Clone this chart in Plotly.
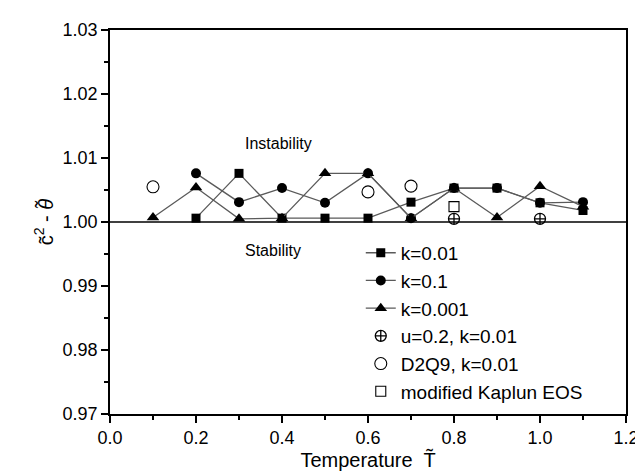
import plotly.graph_objects as go

# ---- data ----
T_k001 = [0.2, 0.3, 0.4, 0.5, 0.6, 0.7, 0.8, 0.9, 1.0, 1.1]
v_k001 = [1.0006, 1.0076, 1.0006, 1.0006, 1.0006, 1.0031, 1.0053, 1.0053, 1.0030, 1.0018]

T_k01 = [0.2, 0.3, 0.4, 0.5, 0.6, 0.7, 0.8, 0.9, 1.0, 1.1]
v_k01 = [1.0076, 1.0031, 1.0053, 1.0030, 1.0076, 1.0006, 1.0053, 1.0053, 1.0030, 1.0031]

T_k0001 = [0.1, 0.2, 0.3, 0.4, 0.5, 0.6, 0.7, 0.8, 0.9, 1.0, 1.1]
v_k0001 = [1.0007, 1.0054, 1.0005, 1.0006, 1.0076, 1.0076, 1.0006, 1.0053, 1.0007, 1.0056, 1.0024]

T_u02 = [0.8, 1.0]
v_u02 = [1.0005, 1.0005]

T_d2q9 = [0.1, 0.6, 0.7]
v_d2q9 = [1.0055, 1.0047, 1.0056]

T_kap = [0.8]
v_kap = [1.0024]

x_ticks = [0.0, 0.2, 0.4, 0.6, 0.8, 1.0, 1.2]
y_ticks = [0.97, 0.98, 0.99, 1.00, 1.01, 1.02, 1.03]

FONT = "Arial, Liberation Sans, sans-serif"
LINE = dict(color="#5a5a5a", width=1.3)

fig = go.Figure()
fig.add_trace(go.Scatter(x=T_k001, y=v_k001, mode="lines+markers", name="k=0.01",
                         line=LINE, marker=dict(symbol="square", size=9, color="black")))
fig.add_trace(go.Scatter(x=T_k01, y=v_k01, mode="lines+markers", name="k=0.1",
                         line=LINE, marker=dict(symbol="circle", size=10, color="black")))
fig.add_trace(go.Scatter(x=T_k0001, y=v_k0001, mode="lines+markers", name="k=0.001",
                         line=LINE, marker=dict(symbol="triangle-up", size=11, color="black")))
fig.add_trace(go.Scatter(x=T_u02, y=v_u02, mode="markers", name="u=0.2, k=0.01",
                         marker=dict(symbol="circle-cross-open", size=11, color="black",
                                     line=dict(width=1.3, color="black"))))
fig.add_trace(go.Scatter(x=T_d2q9, y=v_d2q9, mode="markers", name="D2Q9, k=0.01",
                         marker=dict(symbol="circle-open", size=12, color="black",
                                     line=dict(width=1.1, color="black"))))
fig.add_trace(go.Scatter(x=T_kap, y=v_kap, mode="markers", name="modified Kaplun EOS",
                         marker=dict(symbol="square-open", size=10, color="black",
                                     line=dict(width=1.1, color="black"))))

fig.add_hline(y=1.0, line=dict(color="black", width=1.5), layer="below")

fig.add_annotation(x=0.31, y=1.0122, text="Instability", showarrow=False, xanchor="left",
                   font=dict(size=16, color="black", family=FONT))
fig.add_annotation(x=0.31, y=0.9955, text="Stability", showarrow=False, xanchor="left",
                   font=dict(size=16, color="black", family=FONT))

axis_common = dict(showline=True, linecolor="black", linewidth=1.5, mirror=True,
                   ticks="outside", ticklen=7, tickwidth=1.5, tickcolor="black",
                   showgrid=False, zeroline=False,
                   tickfont=dict(size=18, color="black", family=FONT))

fig.update_xaxes(range=[0, 1.2], tickvals=x_ticks, ticktext=[f"{v:.1f}" for v in x_ticks],
                 minor=dict(ticks="outside", ticklen=4, tickwidth=1.5, tickcolor="black", dtick=0.1, tick0=0),
                 title=dict(text="Temperature  T\u0303", font=dict(size=20, color="black", family=FONT),
                            standoff=2),
                 **axis_common)
fig.update_yaxes(range=[0.97, 1.03], tickvals=y_ticks, ticktext=[f"{v:.2f}" for v in y_ticks],
                 minor=dict(ticks="outside", ticklen=4, tickwidth=1.5, tickcolor="black", dtick=0.005, tick0=0.97),
                 title=dict(text="c\u0303<sup>2</sup> - <i>\u03b8\u0303</i>", font=dict(size=20, color="black", family=FONT),
                            standoff=4),
                 **axis_common)

fig.update_layout(
    width=643, height=472,
    margin=dict(l=102, r=14, t=18, b=66),
    paper_bgcolor="white", plot_bgcolor="white",
    font=dict(family=FONT, color="black"),
    legend=dict(x=0.486, y=0.469, xanchor="left", yanchor="top",
                bgcolor="rgba(0,0,0,0)", font=dict(size=19, color="black", family=FONT),
                tracegroupgap=0, itemsizing="trace"),
)

fig.write_html("out.html")
